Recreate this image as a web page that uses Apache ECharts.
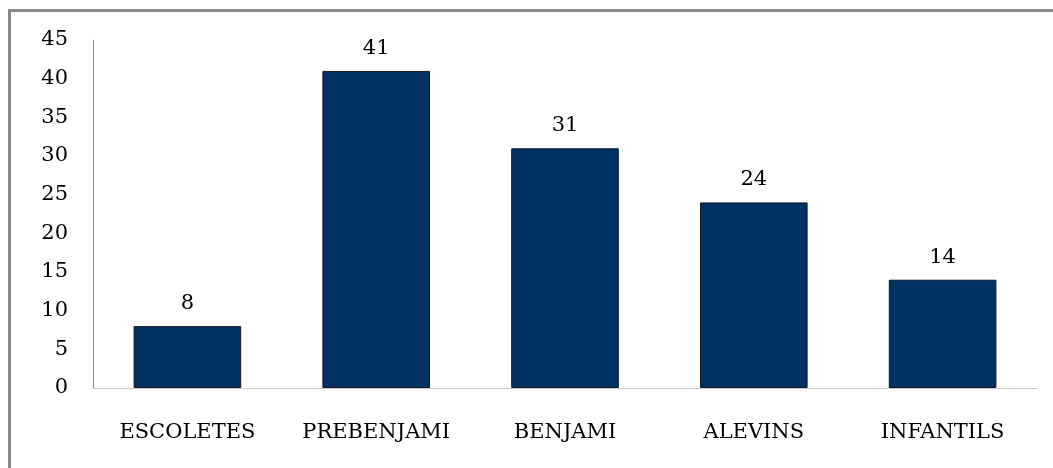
<!DOCTYPE html>
<html><head><meta charset="utf-8">
<script src="https://cdn.jsdelivr.net/npm/echarts@6/dist/echarts.min.js"></script>
<style>html,body{margin:0;padding:0;background:#fff}
#wrap{position:absolute;left:0;top:0;width:1053px;height:468px}
#frame{position:absolute;left:8px;top:9px;width:1045px;height:459px;border-left:3px solid #8a8a8a;border-top:3px solid #8a8a8a;box-sizing:border-box}
#c{position:absolute;left:0;top:0;width:1053px;height:468px}</style>
</head><body><div id="wrap"><div id="frame"></div><div id="c"></div></div>
<script>
var categories = ['ESCOLETES', 'PREBENJAMI', 'BENJAMI', 'ALEVINS', 'INFANTILS'];
var values = [8, 41, 31, 24, 14];
var yTicks = { min: 0, max: 45, interval: 5 };
var font = 'DejaVu Serif';
var chart = echarts.init(document.getElementById('c'), null, { renderer: 'canvas' });
chart.setOption({
  animation: false,
  grid: { left: 93, right: 16, top: 40, bottom: 80, containLabel: false },
  xAxis: {
    type: 'category', data: categories,
    axisLine: { show: true, lineStyle: { color: '#c8c8c8', width: 1 } },
    axisTick: { show: false },
    axisLabel: { interval: 0, hideOverlap: false, color: '#000', fontFamily: font, fontSize: 21, margin: 34 }
  },
  yAxis: {
    type: 'value', min: yTicks.min, max: yTicks.max, interval: yTicks.interval,
    axisLine: { show: true, lineStyle: { color: '#8c8c8c', width: 1 } },
    axisTick: { show: false },
    splitLine: { show: false },
    axisLabel: { color: '#000', fontFamily: font, fontSize: 21, margin: 25 }
  },
  series: [{
    type: 'bar', data: values, barWidth: '57%',
    itemStyle: { color: '#003162', borderColor: '#111a26', borderWidth: 1 },
    label: { show: true, position: 'top', distance: 12, color: '#000', fontFamily: font, fontSize: 21 }
  }]
});
</script></body></html>
